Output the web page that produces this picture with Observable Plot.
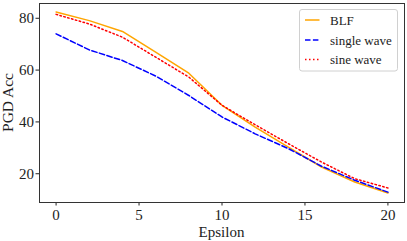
<!DOCTYPE html>
<html>
<head>
<meta charset="utf-8">
<script src="https://cdn.jsdelivr.net/npm/d3@7"></script>
<script src="https://cdn.jsdelivr.net/npm/@observablehq/plot@0.6"></script>
<style>
  html, body { margin: 0; padding: 0; background: #fff; }
  #chart svg, #chart svg text { font-family: "Liberation Serif", "Times New Roman", serif !important; }
</style>
</head>
<body>
<div id="chart"></div>
<script>
const epsilon = [0, 2, 4, 6, 8, 10, 12, 14, 16, 18, 20];
const blf = [82.4, 79.1, 74.9, 66.9, 58.8, 46.4, 38.0, 30.3, 22.6, 16.8, 12.6];
const singleWave = [74.0, 67.8, 63.7, 57.7, 50.2, 41.9, 35.4, 29.7, 22.9, 17.5, 12.9];
const sineWave = [81.5, 77.8, 72.7, 65.0, 57.3, 46.4, 38.9, 31.6, 24.5, 18.1, 14.5];
const seriesNames = ["BLF", "single wave", "sine wave"];
const xTicks = [0, 5, 10, 15, 20];
const yTicks = [20, 40, 60, 80];

const series = [
  {name: seriesNames[0], values: blf, color: "#FFA500", dash: null},
  {name: seriesNames[1], values: singleWave, color: "#0000FF", dash: "5.5,2.4"},
  {name: seriesNames[2], values: sineWave, color: "#FF0000", dash: "1.5,2.5"}
];

const font = "Liberation Serif, Times New Roman, serif";

const marks = [
  Plot.axisX({ticks: xTicks, tickSize: 3.5, tickPadding: 3.5, fontSize: 15, label: null, stroke: "#222"}),
  Plot.axisY({ticks: yTicks, tickSize: 3.5, tickPadding: 2, fontSize: 15, label: null, stroke: "#222"}),
];
for (const s of series) {
  const rows = epsilon.map((e, i) => ({x: e, y: s.values[i]}));
  marks.push(Plot.line(rows, {x: "x", y: "y", stroke: s.color, strokeWidth: 1.5, strokeDasharray: s.dash ?? undefined}));
}
marks.push(Plot.frame({stroke: "#333", strokeWidth: 1}));

const svg = Plot.plot({
  width: 407,
  height: 241,
  marginLeft: 39,
  marginRight: 3,
  marginTop: 3,
  marginBottom: 39,
  x: {domain: [-1, 21]},
  y: {domain: [8.9, 85.7]},
  style: {fontFamily: font, fontSize: "15px", background: "#fff", color: "#222"},
  marks
});

const sel = d3.select(svg);
// axis labels
sel.append("text")
  .attr("x", 221.5).attr("y", 237)
  .attr("text-anchor", "middle")
  .attr("font-size", 15).attr("fill", "#222")
  .text("Epsilon");
sel.append("text")
  .attr("transform", "translate(13,102.5) rotate(-90)")
  .attr("text-anchor", "middle")
  .attr("font-size", 15.5).attr("fill", "#222")
  .text("PGD Acc");

// legend
const lg = sel.append("g").attr("text-anchor", "start");
lg.append("rect")
  .attr("x", 299.5).attr("y", 9.5).attr("width", 98).attr("height", 61.5)
  .attr("rx", 2.5).attr("fill", "#fff").attr("fill-opacity", 0.8)
  .attr("stroke", "#d0d0d0").attr("stroke-width", 1);
const rowY = [20, 40, 59.5];
series.forEach((s, i) => {
  lg.append("line")
    .attr("x1", 305).attr("x2", 319.5).attr("y1", rowY[i]).attr("y2", rowY[i])
    .attr("stroke", s.color).attr("stroke-width", 1.5)
    .attr("stroke-dasharray", s.dash);
  lg.append("text")
    .attr("x", 330).attr("y", rowY[i] + 4.5)
    .attr("text-anchor", "start")
    .attr("font-size", 13).attr("fill", "#222")
    .text(s.name);
});

document.getElementById("chart").appendChild(svg);
</script>
</body>
</html>
